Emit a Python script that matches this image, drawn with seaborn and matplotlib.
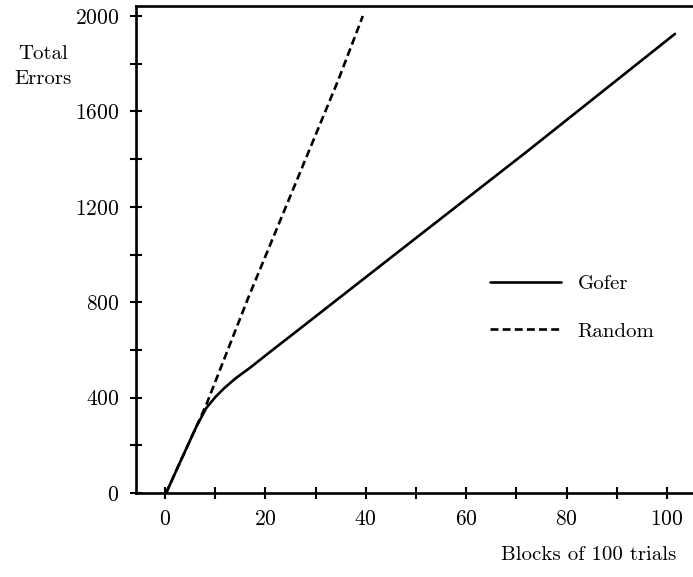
import numpy as np
import pandas as pd
import matplotlib
matplotlib.use("Agg")
import matplotlib.pyplot as plt
import seaborn as sns
from matplotlib.ticker import MultipleLocator

# data
gofer_x = [0.2, 3.0, 6.2, 8.2, 10.0, 11.8, 14.0, 17.1, 21.0, 26.5, 47.0, 72.0, 101.6]
gofer_y = [0, 130, 277, 356, 402, 440, 480, 528, 593, 683, 1020, 1430, 1925]
random_x = [0.2, 3.0, 6.2, 8.2, 16.5, 34.5, 39.4]
random_y = [0, 130, 277, 370, 815, 1731, 2000]

sns.set_theme(style="ticks")
plt.rcParams["font.family"] = ["cmr10", "DejaVu Serif"]
plt.rcParams["axes.formatter.use_mathtext"] = True

fig = plt.figure(figsize=(6.93, 5.77), dpi=100)
ax = fig.add_axes([136 / 693, 84 / 577, 557 / 693, 487 / 577])

sns.lineplot(x=gofer_x, y=gofer_y, ax=ax, color="black", lw=1.9,
             sort=False, estimator=None, label="Gofer")
sns.lineplot(x=random_x, y=random_y, ax=ax, color="black", lw=1.9,
             sort=False, estimator=None, label="Random", dashes=False)
ax.lines[1].set_dashes((3.0, 1.6))

ax.set_xlim(-5.8, 105.2)
ax.set_ylim(0, 2042)
ax.xaxis.set_major_locator(MultipleLocator(20))
ax.xaxis.set_minor_locator(MultipleLocator(10))
ax.yaxis.set_major_locator(MultipleLocator(400))
ax.yaxis.set_minor_locator(MultipleLocator(200))
ax.tick_params(which="both", direction="inout", length=8, width=1.5,
               color="black", labelsize=15.5, labelcolor="black")
ax.tick_params(axis="y", which="both", pad=8)
ax.tick_params(axis="x", which="both", pad=8)

for side in ["left", "bottom", "top"]:
    ax.spines[side].set_linewidth(1.9)
    ax.spines[side].set_color("black")
ax.spines["right"].set_visible(False)

ax.set_ylabel("Total\nErrors", rotation=0, fontsize=15, ha="center", va="center",
              multialignment="center", linespacing=1.5, color="black")
ax.yaxis.set_label_coords(-0.167, 0.875)
ax.set_xlabel("Blocks of 100 trials", fontsize=15, va="center", color="black")
ax.xaxis.set_label_coords(0.812, -0.127)

leg = ax.legend(loc="center left", bbox_to_anchor=(0.636, 0.381), frameon=False,
                fontsize=15, handlelength=3.4, handletextpad=0.8,
                labelspacing=1.4, borderpad=0, borderaxespad=0)
for t in leg.get_texts():
    t.set_color("black")

fig.savefig("out.png", dpi=100, facecolor="white")
